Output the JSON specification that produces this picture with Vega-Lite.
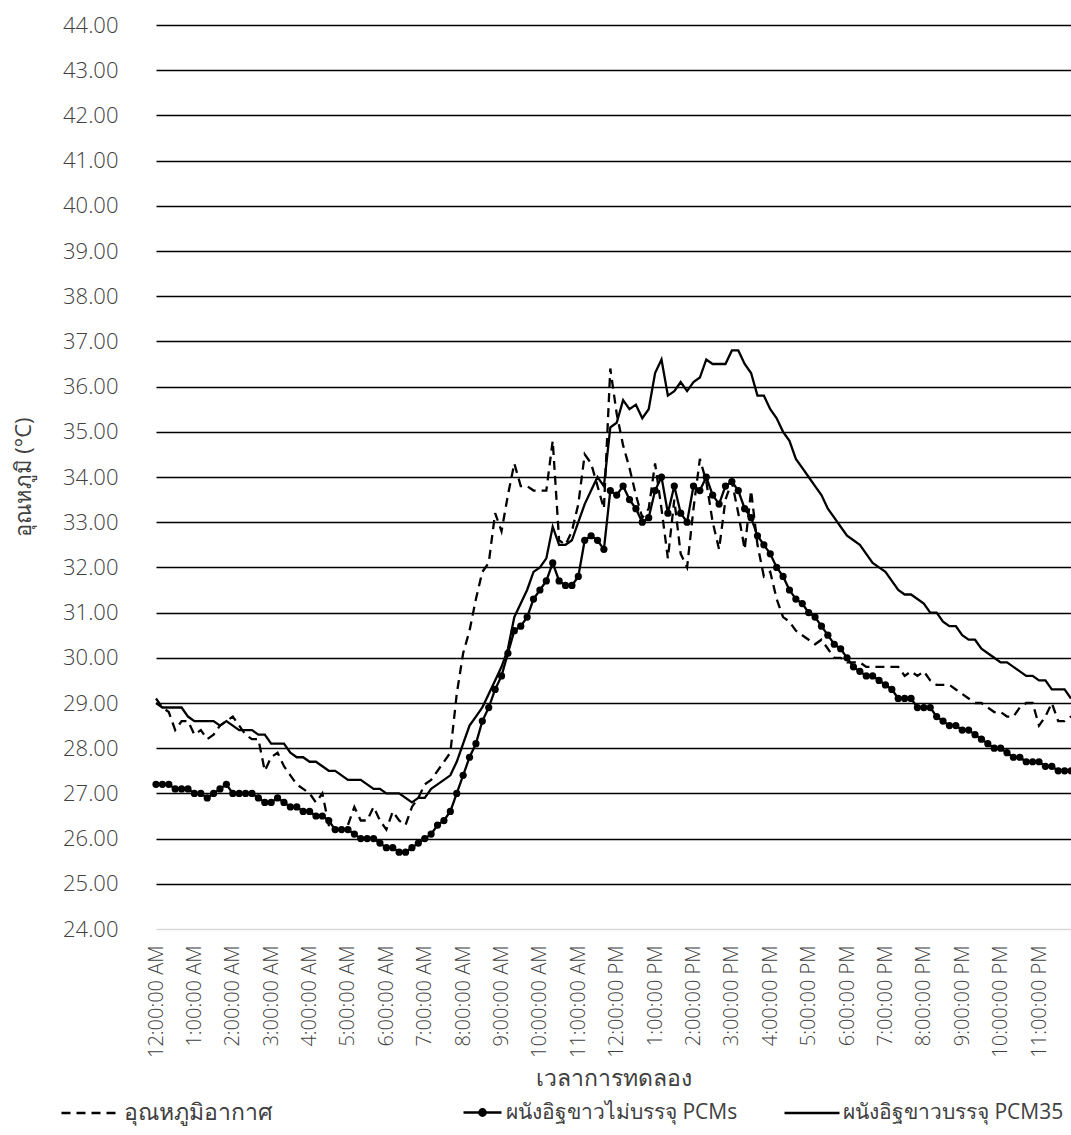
{
"$schema": "https://vega.github.io/schema/vega-lite/v6.json",
"width": 915, "height": 904,
"autosize": {"type": "none"},
"padding": {"left": 156, "top": 25, "right": 0, "bottom": 206},
"background": "white",
"config": {"font": "Open Sans", "view": {"stroke": null}},
"data": {"values": [
{"m":0,"a":29.1,"n":27.2,"p":29.0},{"m":10,"a":28.9,"n":27.2,"p":28.9},{"m":20,"a":28.8,"n":27.2,"p":28.9},{"m":30,"a":28.4,"n":27.1,"p":28.9},{"m":40,"a":28.6,"n":27.1,"p":28.9},{"m":50,"a":28.6,"n":27.1,"p":28.7},
{"m":60,"a":28.3,"n":27.0,"p":28.6},{"m":70,"a":28.4,"n":27.0,"p":28.6},{"m":80,"a":28.2,"n":26.9,"p":28.6},{"m":90,"a":28.3,"n":27.0,"p":28.6},{"m":100,"a":28.5,"n":27.1,"p":28.5},{"m":110,"a":28.6,"n":27.2,"p":28.6},
{"m":120,"a":28.7,"n":27.0,"p":28.5},{"m":130,"a":28.5,"n":27.0,"p":28.4},{"m":140,"a":28.3,"n":27.0,"p":28.4},{"m":150,"a":28.2,"n":27.0,"p":28.4},{"m":160,"a":28.2,"n":26.9,"p":28.3},{"m":170,"a":27.5,"n":26.8,"p":28.3},
{"m":180,"a":27.8,"n":26.8,"p":28.1},{"m":190,"a":27.9,"n":26.9,"p":28.1},{"m":200,"a":27.6,"n":26.8,"p":28.1},{"m":210,"a":27.4,"n":26.7,"p":27.9},{"m":220,"a":27.2,"n":26.7,"p":27.8},{"m":230,"a":27.1,"n":26.6,"p":27.8},
{"m":240,"a":27.0,"n":26.6,"p":27.7},{"m":250,"a":26.8,"n":26.5,"p":27.7},{"m":260,"a":27.0,"n":26.5,"p":27.6},{"m":270,"a":26.3,"n":26.4,"p":27.5},{"m":280,"a":26.2,"n":26.2,"p":27.5},{"m":290,"a":26.2,"n":26.2,"p":27.4},
{"m":300,"a":26.3,"n":26.2,"p":27.3},{"m":310,"a":26.7,"n":26.1,"p":27.3},{"m":320,"a":26.4,"n":26.0,"p":27.3},{"m":330,"a":26.4,"n":26.0,"p":27.2},{"m":340,"a":26.7,"n":26.0,"p":27.1},{"m":350,"a":26.4,"n":25.9,"p":27.1},
{"m":360,"a":26.2,"n":25.8,"p":27.0},{"m":370,"a":26.6,"n":25.8,"p":27.0},{"m":380,"a":26.4,"n":25.7,"p":27.0},{"m":390,"a":26.3,"n":25.7,"p":26.9},{"m":400,"a":26.7,"n":25.8,"p":26.8},{"m":410,"a":26.9,"n":25.9,"p":26.9},
{"m":420,"a":27.2,"n":26.0,"p":26.9},{"m":430,"a":27.3,"n":26.1,"p":27.1},{"m":440,"a":27.5,"n":26.3,"p":27.2},{"m":450,"a":27.7,"n":26.4,"p":27.3},{"m":460,"a":27.9,"n":26.6,"p":27.4},{"m":470,"a":29.2,"n":27.0,"p":27.7},
{"m":480,"a":30.1,"n":27.4,"p":28.1},{"m":490,"a":30.6,"n":27.8,"p":28.5},{"m":500,"a":31.3,"n":28.1,"p":28.7},{"m":510,"a":31.9,"n":28.6,"p":28.9},{"m":520,"a":32.1,"n":28.9,"p":29.2},{"m":530,"a":33.2,"n":29.3,"p":29.5},
{"m":540,"a":32.8,"n":29.6,"p":29.8},{"m":550,"a":33.6,"n":30.1,"p":30.2},{"m":560,"a":34.3,"n":30.6,"p":30.9},{"m":570,"a":33.8,"n":30.7,"p":31.2},{"m":580,"a":33.8,"n":30.9,"p":31.5},{"m":590,"a":33.7,"n":31.3,"p":31.9},
{"m":600,"a":33.7,"n":31.5,"p":32.0},{"m":610,"a":33.7,"n":31.7,"p":32.2},{"m":620,"a":34.8,"n":32.1,"p":32.9},{"m":630,"a":32.6,"n":31.7,"p":32.5},{"m":640,"a":32.5,"n":31.6,"p":32.5},{"m":650,"a":32.8,"n":31.6,"p":32.6},
{"m":660,"a":33.4,"n":31.8,"p":33.0},{"m":670,"a":34.5,"n":32.6,"p":33.4},{"m":680,"a":34.3,"n":32.7,"p":33.7},{"m":690,"a":33.8,"n":32.6,"p":34.0},{"m":700,"a":33.3,"n":32.4,"p":33.8},{"m":710,"a":36.4,"n":33.7,"p":35.1},
{"m":720,"a":35.4,"n":33.6,"p":35.2},{"m":730,"a":34.7,"n":33.8,"p":35.7},{"m":740,"a":34.2,"n":33.5,"p":35.5},{"m":750,"a":33.6,"n":33.3,"p":35.6},{"m":760,"a":33.1,"n":33.0,"p":35.3},{"m":770,"a":33.3,"n":33.1,"p":35.5},
{"m":780,"a":34.3,"n":33.7,"p":36.3},{"m":790,"a":33.3,"n":34.0,"p":36.6},{"m":800,"a":32.2,"n":33.2,"p":35.8},{"m":810,"a":33.5,"n":33.8,"p":35.9},{"m":820,"a":32.3,"n":33.2,"p":36.1},{"m":830,"a":32.0,"n":33.0,"p":35.9},
{"m":840,"a":33.3,"n":33.8,"p":36.1},{"m":850,"a":34.4,"n":33.7,"p":36.2},{"m":860,"a":33.9,"n":34.0,"p":36.6},{"m":870,"a":33.0,"n":33.6,"p":36.5},{"m":880,"a":32.4,"n":33.4,"p":36.5},{"m":890,"a":33.5,"n":33.8,"p":36.5},
{"m":900,"a":33.9,"n":33.9,"p":36.8},{"m":910,"a":33.2,"n":33.7,"p":36.8},{"m":920,"a":32.4,"n":33.3,"p":36.5},{"m":930,"a":33.7,"n":33.1,"p":36.3},{"m":940,"a":32.5,"n":32.7,"p":35.8},{"m":950,"a":31.8,"n":32.5,"p":35.8},
{"m":960,"a":31.9,"n":32.3,"p":35.5},{"m":970,"a":31.3,"n":32.0,"p":35.3},{"m":980,"a":30.9,"n":31.8,"p":35.0},{"m":990,"a":30.8,"n":31.5,"p":34.8},{"m":1000,"a":30.6,"n":31.3,"p":34.4},{"m":1010,"a":30.5,"n":31.2,"p":34.2},
{"m":1020,"a":30.4,"n":31.0,"p":34.0},{"m":1030,"a":30.3,"n":30.9,"p":33.8},{"m":1040,"a":30.4,"n":30.7,"p":33.6},{"m":1050,"a":30.2,"n":30.5,"p":33.3},{"m":1060,"a":30.0,"n":30.3,"p":33.1},{"m":1070,"a":30.0,"n":30.2,"p":32.9},
{"m":1080,"a":29.9,"n":30.0,"p":32.7},{"m":1090,"a":29.9,"n":29.8,"p":32.6},{"m":1100,"a":29.9,"n":29.7,"p":32.5},{"m":1110,"a":29.8,"n":29.6,"p":32.3},{"m":1120,"a":29.8,"n":29.6,"p":32.1},{"m":1130,"a":29.8,"n":29.5,"p":32.0},
{"m":1140,"a":29.8,"n":29.4,"p":31.9},{"m":1150,"a":29.8,"n":29.3,"p":31.7},{"m":1160,"a":29.8,"n":29.1,"p":31.5},{"m":1170,"a":29.6,"n":29.1,"p":31.4},{"m":1180,"a":29.7,"n":29.1,"p":31.4},{"m":1190,"a":29.6,"n":28.9,"p":31.3},
{"m":1200,"a":29.7,"n":28.9,"p":31.2},{"m":1210,"a":29.5,"n":28.9,"p":31.0},{"m":1220,"a":29.4,"n":28.7,"p":31.0},{"m":1230,"a":29.4,"n":28.6,"p":30.8},{"m":1240,"a":29.4,"n":28.5,"p":30.7},{"m":1250,"a":29.3,"n":28.5,"p":30.7},
{"m":1260,"a":29.2,"n":28.4,"p":30.5},{"m":1270,"a":29.1,"n":28.4,"p":30.4},{"m":1280,"a":29.0,"n":28.3,"p":30.4},{"m":1290,"a":29.0,"n":28.2,"p":30.2},{"m":1300,"a":28.9,"n":28.1,"p":30.1},{"m":1310,"a":28.8,"n":28.0,"p":30.0},
{"m":1320,"a":28.8,"n":28.0,"p":29.9},{"m":1330,"a":28.7,"n":27.9,"p":29.9},{"m":1340,"a":28.7,"n":27.8,"p":29.8},{"m":1350,"a":28.9,"n":27.8,"p":29.7},{"m":1360,"a":29.0,"n":27.7,"p":29.6},{"m":1370,"a":29.0,"n":27.7,"p":29.6},
{"m":1380,"a":28.5,"n":27.7,"p":29.5},{"m":1390,"a":28.7,"n":27.6,"p":29.5},{"m":1400,"a":29.0,"n":27.6,"p":29.3},{"m":1410,"a":28.6,"n":27.5,"p":29.3},{"m":1420,"a":28.6,"n":27.5,"p":29.3},{"m":1430,"a":28.7,"n":27.5,"p":29.1}
]},
"transform": [{"fold": ["a", "n", "p"], "as": ["k", "v"]}],
"encoding": {
  "x": {"field": "m", "type": "quantitative", "scale": {"domain": [0, 1430], "nice": false, "zero": false},
    "axis": {"values": [0,60,120,180,240,300,360,420,480,540,600,660,720,780,840,900,960,1020,1080,1140,1200,1260,1320,1380],
      "labelExpr": "(floor(datum.value/60) % 12 === 0 ? 12 : floor(datum.value/60) % 12) + ':00:00 ' + (datum.value < 720 ? 'AM' : 'PM')",
      "labelAngle": -90, "labelPadding": 16,
      "domain": false, "ticks": false, "grid": false, "labelFontSize": 20, "labelFontWeight": 300, "labelColor": "#404040", "labelFlush": false, "labelOverlap": false,
      "title": "เวลาการทดลอง", "titleFontSize": 23, "titleFontWeight": "normal", "titleColor": "#404040", "titlePadding": 10}},
  "y": {"field": "v", "type": "quantitative", "scale": {"domain": [24, 44], "nice": false, "zero": false},
    "axis": {"values": [24,25,26,27,28,29,30,31,32,33,34,35,36,37,38,39,40,41,42,43,44], "format": ".2f",
      "domain": false, "ticks": false, "grid": true, "gridWidth": 1.6,
      "gridColor": {"condition": {"test": "datum.value === 24", "value": "#d9d9d9"}, "value": "#000000"},
      "labelPadding": 38, "labelFontSize": 22, "labelFontWeight": 300, "labelColor": "#404040",
      "title": "อุณหภูมิ (°C)", "titleFontSize": 22, "titleFontWeight": "normal", "titleColor": "#404040", "titlePadding": 27}}
},
"layer": [
  {"transform": [{"filter": "datum.k === 'a'"}],
   "mark": {"type": "line", "color": "black", "strokeWidth": 2.3},
   "encoding": {"strokeDash": {"datum": "อุณหภูมิอากาศ", "scale": {"domain": ["อุณหภูมิอากาศ"], "range": [[9, 6]]},
     "legend": {"orient": "none", "legendX": -96, "legendY": 1058, "title": null, "symbolType": "stroke", "symbolSize": 3249,
       "symbolStrokeWidth": 2.3, "symbolStrokeColor": "black", "labelFontSize": 23, "labelColor": "#404040", "labelOffset": 4, "labelLimit": 400}}}},
  {"transform": [{"filter": "datum.k === 'n'"}],
   "mark": {"type": "line", "strokeWidth": 2.3},
   "encoding": {"color": {"datum": "ผนังอิฐขาวไม่บรรจุ PCMs", "scale": {"domain": ["ผนังอิฐขาวไม่บรรจุ PCMs"], "range": ["black"]},
     "legend": {"orient": "none", "legendX": 306, "legendY": 1067, "title": null,
       "symbolType": "M-1,0H1M-0.17,0A0.17,0.17,0,1,1,0.17,0A0.17,0.17,0,1,1,-0.17,0", "symbolSize": 1444,
       "symbolStrokeWidth": 2.3, "symbolFillColor": "black", "labelFontSize": 21, "labelColor": "#404040", "labelOffset": 3, "labelLimit": 400,
       "encode": {"symbols": {"update": {"fill": {"value": "black"}, "stroke": {"value": "black"}}}}}}}},
  {"transform": [{"filter": "datum.k === 'n'"}],
   "mark": {"type": "point", "filled": true, "color": "black", "size": 52, "opacity": 1}},
  {"transform": [{"filter": "datum.k === 'p'"}],
   "mark": {"type": "line", "color": "black", "strokeWidth": 2.3},
   "encoding": {"opacity": {"datum": "ผนังอิฐขาวบรรจุ PCM35", "scale": {"domain": ["ผนังอิฐขาวบรรจุ PCM35"], "range": [1]},
     "legend": {"orient": "none", "legendX": 627, "legendY": 1059, "title": null, "symbolType": "stroke", "symbolSize": 3025,
       "symbolStrokeWidth": 2.3, "symbolStrokeColor": "black", "labelFontSize": 21, "labelColor": "#404040", "labelOffset": 2, "labelLimit": 400}}}}
]
}
